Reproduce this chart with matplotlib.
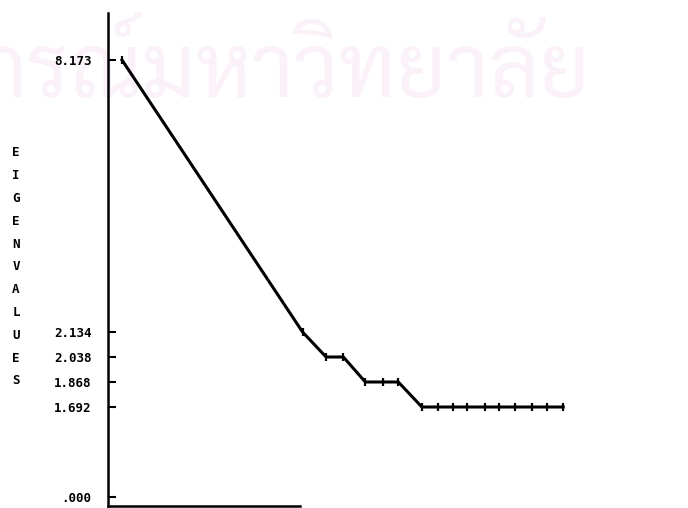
import numpy as np
import matplotlib
matplotlib.use("Agg")
import matplotlib.pyplot as plt

# scree plot values
comp_pos = [1.0, 12.5, 14.0, 15.1, 16.5, 17.6, 18.6, 20.1, 21.1, 22.1, 23.0,
            24.1, 25.0, 26.0, 27.1, 28.1, 29.1]
eigenvalues = [8.173, 2.134, 2.038, 2.038, 1.868, 1.868, 1.868, 1.692, 1.692,
               1.692, 1.692, 1.692, 1.692, 1.692, 1.692, 1.692, 1.692]
tick_values = [0.0, 1.692, 1.868, 2.038, 2.134, 8.173]
tick_labels = [".000", "1.692", "1.868", "2.038", "2.134", "8.173"]
axis_letters = "EIGENVALUES"
watermark = "กรณ์มหาวิทยาลัย"

# the printer plot spreads the small values out: piecewise axis
node_v = np.array([-1.0, 0.0, 1.692, 1.868, 2.038, 2.134, 8.173, 12.0])
node_p = np.array([-44.2, 9.0, 99.0, 124.0, 149.0, 174.0, 446.0, 618.4])

def fwd(v):
	return np.interp(v, node_v, node_p)

def inv(p):
	return np.interp(p, node_p, node_v)

fig = plt.figure(figsize=(6.88, 5.08), dpi=100)

# faint watermark behind the plot
fig.text(590 / 688, 1 - 97 / 508, watermark, ha="right", va="baseline",
	fontsize=63, color="#fbf1f9", zorder=0,
	family=["Sarabun", "Noto Sans Thai Looped", "Noto Sans Thai", "Athiti", "DejaVu Sans"])

ax = fig.add_axes([108 / 688, 2 / 508, 492 / 688, 493 / 508])
ax.set_zorder(2)
ax.patch.set_alpha(0)
ax.set_yscale("function", functions=(fwd, inv))
ax.set_ylim(inv(0), inv(493))
ax.set_xlim(1 - 14 / 15.7, 1 + 492 / 15.7 - 14 / 15.7)

ax.plot(comp_pos, eigenvalues, color="black", lw=2.2, marker="|",
	markersize=6, mew=1.6, solid_joinstyle="round")

ax.set_yticks(tick_values)
ax.set_yticklabels(tick_labels, family="DejaVu Sans Mono", fontweight="bold",
	fontsize=9)
ax.yaxis.set_minor_locator(matplotlib.ticker.NullLocator())
ax.tick_params(axis="y", direction="in", length=6, width=1.5, pad=12)
ax.set_xticks([])

# make top and right lines invisible
ax.spines["top"].set_visible(False)
ax.spines["right"].set_visible(False)
ax.spines["left"].set_linewidth(1.8)
ax.spines["bottom"].set_linewidth(1.8)
ax.spines["bottom"].set_bounds(ax.get_xlim()[0], 1 + (300 - 122) / 15.7)

# vertical axis title, one letter per row
for i, ch in enumerate(axis_letters):
	fig.text(16 / 688, 1 - (153 + i * 22.8) / 508, ch, ha="center", va="center",
		family="DejaVu Sans Mono", fontweight="bold", fontsize=9)

plt.savefig("out.png", dpi=100)
